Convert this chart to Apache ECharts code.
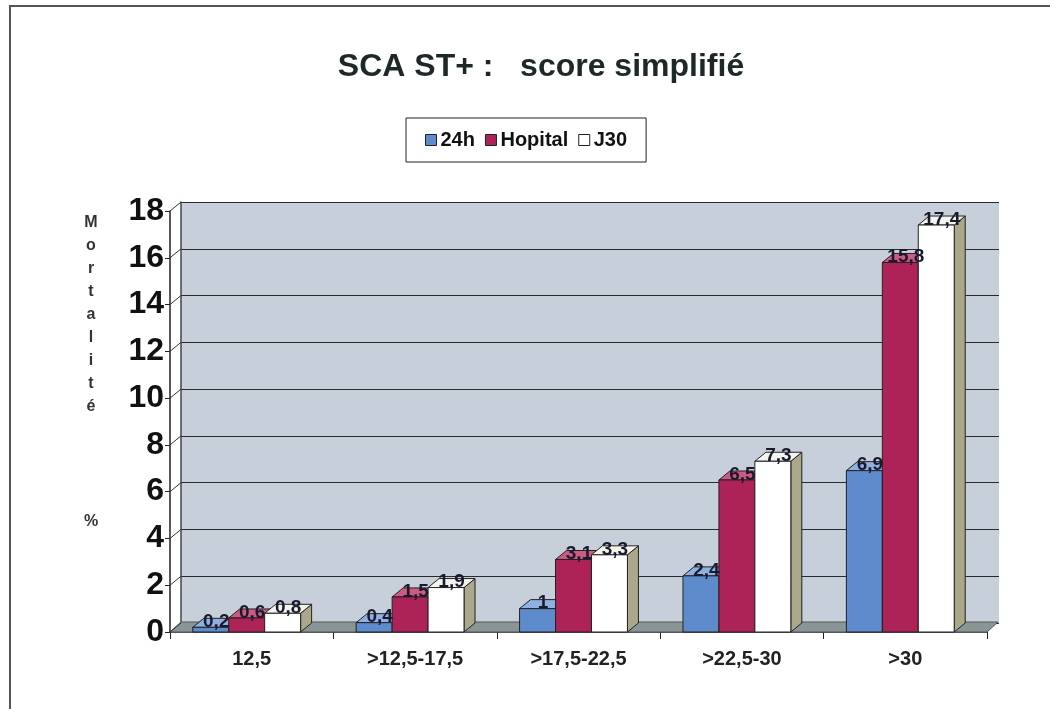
<!DOCTYPE html>
<html>
<head>
<meta charset="utf-8">
<script src="https://cdn.jsdelivr.net/npm/echarts@6/dist/echarts.min.js"></script>
<style>
  body { margin: 0; background: #fff; }
  .wrap { position: relative; width: 1050px; height: 709px; }
  .frame {
    position: absolute; left: 9px; top: 5px; right: 0; bottom: 0;
    border-left: 2px solid #555; border-top: 2px solid #555;
    pointer-events: none;
  }
  #chart { width: 1050px; height: 709px; }
</style>
</head>
<body>
<div class="wrap">
  <div id="chart"></div>
  <div class="frame"></div>
</div>
<script>
// donnees
const categories = ["12,5", ">12,5-17,5", ">17,5-22,5", ">22,5-30", ">30"];
const seriesNames = ["24h", "Hopital", "J30"];
const vals24h = [0.2, 0.4, 1, 2.4, 6.9];
const valsHopital = [0.6, 1.5, 3.1, 6.5, 15.8];
const valsJ30 = [0.8, 1.9, 3.3, 7.3, 17.4];
const yTicks = [0, 2, 4, 6, 8, 10, 12, 14, 16, 18];

// faces: devant, dessus, cote
const palette = [
  { front: "#5d8bcb", top: "#8fb0e0", side: "#3d679f" },
  { front: "#ae2357", top: "#cc5a82", side: "#7b1639" },
  { front: "#ffffff", top: "#f4f4ee", side: "#aaa78a" }
];
const depthX = 11, depthY = 9;

function fmt(v) {
  return String(v).replace(".", ",");
}

function renderBar(idx) {
  const c = palette[idx];
  return function (params, api) {
    const cat = api.value(0);
    const val = api.value(1);
    const base = api.coord([cat, 0]);
    const top = api.coord([cat, val]);
    const band = api.size([1, 0])[0];
    const groupW = band * 0.66;
    const barW = groupW / 3;
    const x0 = base[0] - groupW / 2 - 5 + idx * barW;
    const x1 = x0 + barW;
    const yB = base[1], yT = top[1];
    const stroke = { stroke: "#222", lineWidth: 1 };
    return {
      type: "group",
      children: [
        {
          type: "polygon",
          shape: { points: [[x1, yB], [x1 + depthX, yB - depthY], [x1 + depthX, yT - depthY], [x1, yT]] },
          style: Object.assign({ fill: c.side }, stroke)
        },
        {
          type: "polygon",
          shape: { points: [[x0, yT], [x0 + depthX, yT - depthY], [x1 + depthX, yT - depthY], [x1, yT]] },
          style: Object.assign({ fill: c.top }, stroke)
        },
        {
          type: "rect",
          shape: { x: x0, y: yT, width: barW, height: yB - yT },
          style: Object.assign({ fill: c.front }, stroke)
        },
        {
          type: "text",
          z2: 100,
          x: (x0 + x1) / 2 + depthX / 2,
          y: yT - depthY / 2 - 1,
          style: {
            text: fmt(val),
            fill: "#1a1a2e",
            font: "bold 19px 'Liberation Sans', Arial, sans-serif",
            align: "center",
            verticalAlign: "middle"
          }
        }
      ]
    };
  };
}

function toData(arr) {
  return arr.map(function (v, i) { return [i, v]; });
}

const allValues = [vals24h, valsHopital, valsJ30];
const font = "'Liberation Sans', Arial, sans-serif";

const chart = echarts.init(document.getElementById("chart"));
const option = {
  backgroundColor: "#fff",
  animation: false,
  title: [
    {
      text: "SCA ST+ :   score simplifié",
      left: 536,
      textAlign: "center",
      top: 46,
      textStyle: { fontFamily: font, fontWeight: "bold", fontSize: 32, color: "#1e2828" }
    },
    {
      text: "M\no\nr\nt\na\nl\ni\nt\né\n\n\n\n\n%",
      left: 86,
      textAlign: "center",
      top: 206,
      textStyle: { fontFamily: font, fontWeight: "bold", fontSize: 16, lineHeight: 23, color: "#333" }
    }
  ],
  legend: {
    data: seriesNames,
    left: 406,
    top: 118,
    padding: [12, 19, 12, 19],
    borderColor: "#222",
    borderWidth: 1,
    itemGap: 10,
    itemWidth: 11,
    itemHeight: 11,
    icon: "rect",
    itemStyle: { borderColor: "#222", borderWidth: 1 },
    textStyle: { fontFamily: font, fontWeight: "bold", fontSize: 20, color: "#111", padding: [0, 0, 0, -1] }
  },
  grid: [
    { left: 170, right: 63, top: 211, bottom: 77 },
    { left: 181, right: 51, top: 202, bottom: 86, show: true, backgroundColor: "#c7d0da", borderWidth: 0 }
  ],
  xAxis: [
    {
      type: "category",
      gridIndex: 0,
      data: categories,
      axisLine: { lineStyle: { color: "#222", width: 1.5 } },
      axisTick: { show: true, length: 7, lineStyle: { color: "#222" } },
      axisLabel: { fontFamily: font, fontWeight: "bold", fontSize: 20, color: "#222", margin: 17 }
    },
    {
      type: "category",
      gridIndex: 1,
      data: categories,
      show: false
    }
  ],
  yAxis: [
    {
      type: "value",
      gridIndex: 0,
      min: 0,
      max: 18,
      interval: 2,
      axisLine: { show: true, lineStyle: { color: "#222", width: 1.5 } },
      axisTick: { show: true, length: 5, lineStyle: { color: "#222" } },
      splitLine: { show: false },
      axisLabel: { fontFamily: font, fontWeight: "bold", fontSize: 32, color: "#111", margin: 6 }
    },
    {
      type: "value",
      gridIndex: 1,
      min: 0,
      max: 18,
      interval: 2,
      axisLine: { show: true, lineStyle: { color: "#444", width: 1.5 } },
      axisTick: { show: false },
      axisLabel: { show: false },
      splitLine: { show: true, lineStyle: { color: "#2a2a2a", width: 1.2 } }
    }
  ],
  series: seriesNames.map(function (name, i) {
    return {
      name: name,
      type: "custom",
      xAxisIndex: 0,
      yAxisIndex: 0,
      z: 5,
      itemStyle: { color: palette[i].front, borderColor: "#222" },
      renderItem: renderBar(i),
      encode: { x: 0, y: 1 },
      data: toData(allValues[i])
    };
  })
};
chart.setOption(option);

// sol et liaisons des graduations vers la paroi du fond
const x0 = chart.convertToPixel({ xAxisIndex: 0 }, 0) - 163.4 / 2;
const yZero = chart.convertToPixel({ yAxisIndex: 0 }, 0);
const floorW = 817;
const extras = [
  {
    type: "polygon",
    z: 1,
    shape: { points: [[x0, yZero], [x0 + depthX, yZero - depthY - 1], [x0 + floorW + depthX, yZero - depthY - 1], [x0 + floorW, yZero]] },
    style: { fill: "#8a9595", stroke: "#555", lineWidth: 1 }
  }
];
yTicks.forEach(function (t) {
  const y = chart.convertToPixel({ yAxisIndex: 0 }, t);
  extras.push({
    type: "line",
    z: 2,
    shape: { x1: x0, y1: y, x2: x0 + depthX, y2: y - depthY },
    style: { stroke: "#333", lineWidth: 1 }
  });
});
chart.setOption({ graphic: extras });
</script>
</body>
</html>
